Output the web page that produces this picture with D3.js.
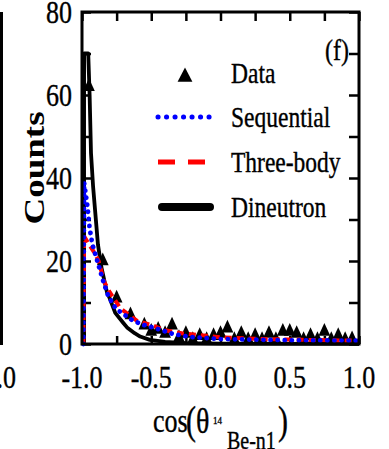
<!DOCTYPE html>
<html><head><meta charset="utf-8">
<script src="https://cdn.jsdelivr.net/npm/d3@7"></script>
<style>html,body{margin:0;padding:0;background:#fff;overflow:hidden}</style>
</head><body><svg id="c" width="389" height="449"></svg>
<script>
// ---- data ----
const xTickValues = [-1.0, -0.5, 0.0, 0.5, 1.0];
const xTickLabels = ["-1.0", "-0.5", "0.0", "0.5", "1.0"];
const yTickValues = [0, 20, 40, 60, 80];
const yTickLabels = ["0", "20", "40", "60", "80"];

const dataX = [-0.95,-0.85,-0.75,-0.65,-0.55,-0.5,-0.45,-0.4,-0.35,-0.3,-0.25,-0.2,-0.15,-0.1,-0.05,0.0,0.05,0.1,0.15,0.2,0.25,0.3,0.35,0.4,0.45,0.5,0.55,0.6,0.65,0.7,0.75,0.8,0.85,0.9,0.95];
const dataY = [62,20,11,7,4.5,3,3.5,2.5,4.5,1.5,2.5,1,2,1,2,2.5,3.8,1,2.5,1,2,1,2.5,1,3,3,2.5,1,2,1,3,1,2,1,1.2];

const seqX = [-0.99,-0.985,-0.96,-0.945,-0.925,-0.885,-0.85,-0.81,-0.755,-0.645,-0.575,-0.47,-0.34,-0.22,-0.1,0.0,0.5,1.0];
const seqY = [0,39,33,28,24,19.5,15.5,11.5,8.5,5.9,4.8,3.8,2.4,1.7,1.4,1.2,0.9,0.8];

const threeX = [-0.99,-0.985,-0.95,-0.91,-0.88,-0.84,-0.80,-0.72,-0.6,-0.5,-0.4,-0.28,-0.1,0.0,0.3,0.6,1.0];
const threeY = [0,26,24,22,20,15,12.5,8.5,5.5,4.6,3.3,2.6,2,1.6,1.2,1,0.8];

const dineX = [-0.985,-0.985,-0.955,-0.945,-0.935,-0.92,-0.90,-0.885,-0.86,-0.82,-0.80,-0.76,-0.70,-0.675,-0.62,-0.58,-0.51,-0.40,-0.25,0.0,1.0];
const dineY = [0,70,70,60,46,38,30,24,18.5,12.5,11,7.5,5,4,2.6,1.8,1,0.5,0.2,0.1,0.05];

const legendLabels = ["Data", "Sequential", "Three-body", "Dineutron"];
const seriesColors = ["#000000", "#0000ff", "#ff0000", "#000000"];
const panelLabel = "(f)";
const yTitle = "Counts";

// ---- drawing ----
const svg = d3.select("#c");
const FONT = "'Liberation Serif','Times New Roman',serif";
const x = d3.scaleLinear().domain([-1, 1]).range([82, 359]);
const y = d3.scaleLinear().domain([0, 80]).range([344, 12]);

function txt(px, py, s, size, anchor, sx, sy, weight) {
  return svg.append("text")
    .attr("transform", `translate(${px},${py}) scale(${sx||1},${sy||1.25})`)
    .attr("font-family", FONT).attr("font-size", size)
    .attr("font-weight", weight || "normal")
    .attr("text-anchor", anchor || "start").attr("fill", "#000")
    .attr("stroke", "#000").attr("stroke-width", 0.3).text(s);
}

// neighbour panel remnants
svg.append("line").attr("x1", 1.5).attr("x2", 1.5).attr("y1", 12).attr("y2", 345)
  .attr("stroke", "#000").attr("stroke-width", 3);
txt(16, 388, "1.0", 26, "end");

// ticks via axes (inward)
const tickG = svg.append("g");
const xMinor = d3.range(-1, 1.001, 0.25);
const yMinor = d3.range(0, 80.1, 10);
tickG.append("g").attr("transform", `translate(0,${y(0)})`)
  .call(d3.axisBottom(x).tickValues(xMinor).tickSize(-8).tickFormat(""));
tickG.append("g").attr("transform", `translate(0,${y(80)})`)
  .call(d3.axisTop(x).tickValues(xMinor).tickSize(-9).tickFormat(""));
tickG.append("g").attr("transform", `translate(${x(-1)},0)`)
  .call(d3.axisLeft(y).tickValues(yMinor).tickSize(-9).tickFormat(""));
tickG.append("g").attr("transform", `translate(${x(1)},0)`)
  .call(d3.axisRight(y).tickValues(yMinor).tickSize(-10).tickFormat(""));
tickG.selectAll(".domain").remove();
tickG.selectAll("line").attr("stroke", "#000").attr("stroke-width", 2.5);

// data triangles
const tri = d3.symbol().type(d3.symbolTriangle).size(60);
svg.append("g").selectAll("path").data(dataX.map((d, i) => [d, dataY[i]])).join("path")
  .attr("d", tri)
  .attr("transform", d => `translate(${x(d[0])},${y(d[1])}) scale(1,1.25)`)
  .attr("fill", "#000");

// curves
const line = d3.line().x(d => x(d[0])).y(d => y(d[1]));
svg.append("path").datum(dineX.map((d, i) => [d, dineY[i]]))
  .attr("d", line).attr("fill", "none").attr("stroke", "#000").attr("stroke-width", 3.8)
  .attr("stroke-linejoin", "round");
svg.append("path").datum(threeX.map((d, i) => [d, threeY[i]]))
  .attr("d", line).attr("fill", "none").attr("stroke", "#ff0000").attr("stroke-width", 4)
  .attr("stroke-dasharray", "7,5");
svg.append("path").datum(seqX.map((d, i) => [d, seqY[i]]))
  .attr("d", line).attr("fill", "none").attr("stroke", "#0000ff").attr("stroke-width", 4.8)
  .attr("stroke-dasharray", "0.1,7").attr("stroke-linecap", "round");

// frame
svg.append("rect").attr("x", x(-1)).attr("y", y(80))
  .attr("width", x(1) - x(-1)).attr("height", y(0) - y(80))
  .attr("fill", "none").attr("stroke", "#000").attr("stroke-width", 3);

// tick labels
yTickValues.forEach((v, i) => txt(72, y(v) + 10.5, yTickLabels[i], 26, "end"));
xTickValues.forEach((v, i) => txt(x(v), 388, xTickLabels[i], 26, "middle"));

// axis titles
svg.append("text")
  .attr("transform", "translate(44,168) rotate(-90) scale(1,0.8)")
  .attr("font-family", FONT).attr("font-size", 37).attr("font-weight", "bold")
  .attr("text-anchor", "middle").text(yTitle);
txt(153, 432, "cos", 26, "start", 1, 1.3);
txt(186, 434, "(", 30, "start", 1, 1.35);
txt(196, 433, "θ", 28, "start", 1, 1.3);
txt(213, 424, "14", 9, "start", 1, 1.2);
txt(227, 449, "Be-n1", 20, "start", 1, 1.25);
txt(278, 434, ")", 30, "start", 1, 1.35);

// panel label
txt(325, 60, panelLabel, 24, "start");

// legend
const legY = [83, 127, 172, 217];
svg.append("path").attr("d", d3.symbol().type(d3.symbolTriangle).size(95))
  .attr("transform", `translate(185,${legY[0] - 6}) scale(1,1.1)`).attr("fill", "#000");
svg.append("line").attr("x1", 158).attr("x2", 212).attr("y1", legY[1] - 10).attr("y2", legY[1] - 10)
  .attr("stroke", seriesColors[1]).attr("stroke-width", 5).attr("stroke-dasharray", "0.1,8.4")
  .attr("stroke-linecap", "round");
svg.append("line").attr("x1", 158).attr("x2", 212).attr("y1", legY[2] - 10).attr("y2", legY[2] - 10)
  .attr("stroke", seriesColors[2]).attr("stroke-width", 5).attr("stroke-dasharray", "17,13");
svg.append("line").attr("x1", 162).attr("x2", 210).attr("y1", legY[3] - 10).attr("y2", legY[3] - 10)
  .attr("stroke", seriesColors[3]).attr("stroke-width", 8).attr("stroke-linecap", "round");
legendLabels.forEach((l, i) => txt(231, legY[i], l, 23.5, "start"));
</script></body></html>
